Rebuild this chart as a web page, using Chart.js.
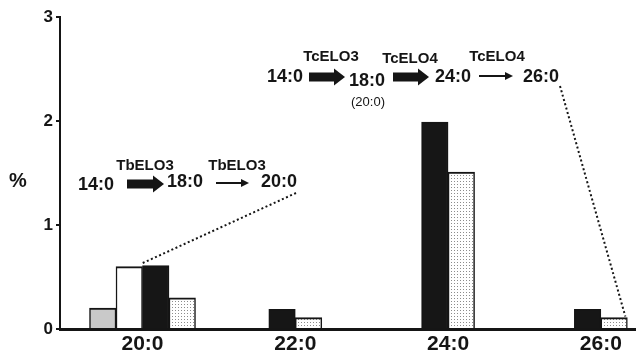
<!DOCTYPE html>
<html>
<head>
<meta charset="utf-8">
<script src="https://cdn.jsdelivr.net/npm/chart.js@4.4.1/dist/chart.umd.min.js"></script>
<style>
  html, body { margin: 0; padding: 0; background: #fff; }
  #wrap { width: 636px; height: 358px; }
</style>
</head>
<body>
<div id="wrap"><canvas id="elongChart"></canvas></div>
<script>
const categories = ['20:0', '22:0', '24:0', '26:0'];
const grayValues = [0.2, null, null, null];
const whiteValues = [0.6, null, null, null];
const blackValues = [0.61, 0.19, 1.99, 0.19];
const dottedValues = [0.3, 0.11, 1.51, 0.11];
const yTicks = [0, 1, 2, 3];

// chain length as number so the x axis can be linear (lets the groups spread like the figure)
const chainLengths = categories.map(c => parseInt(c));

const FONT = "'Liberation Sans', Arial, sans-serif";
const INK = '#151515';

const canvas = document.getElementById('elongChart');
const ctx = canvas.getContext('2d');

// stippled fill for the last series
const dots = document.createElement('canvas');
dots.width = 3; dots.height = 3;
const dctx = dots.getContext('2d');
dctx.fillStyle = '#fff';
dctx.fillRect(0, 0, 3, 3);
dctx.fillStyle = '#8c8c8c';
dctx.fillRect(1, 1, 1, 1);
const dotPattern = ctx.createPattern(dots, 'repeat');

function text(c, str, x, y, size, bold) {
    c.font = (bold ? 'bold ' : '') + size + 'px ' + FONT;
    c.fillStyle = INK;
    c.textAlign = 'center';
    c.textBaseline = 'middle';
    c.fillText(str, x, y);
}

function thickArrow(c, x1, x2, y) {
    const head = 11;
    c.fillStyle = INK;
    c.fillRect(x1, y - 4.5, x2 - x1 - head, 9);
    c.beginPath();
    c.moveTo(x2 - head, y - 8.5);
    c.lineTo(x2, y);
    c.lineTo(x2 - head, y + 8.5);
    c.closePath();
    c.fill();
}

function thinArrow(c, x1, x2, y) {
    const head = 8;
    c.strokeStyle = INK;
    c.lineWidth = 2;
    c.beginPath();
    c.moveTo(x1, y);
    c.lineTo(x2 - head, y);
    c.stroke();
    c.fillStyle = INK;
    c.beginPath();
    c.moveTo(x2 - head, y - 4);
    c.lineTo(x2, y);
    c.lineTo(x2 - head, y + 4);
    c.closePath();
    c.fill();
}

function dotted(c, x1, y1, x2, y2) {
    c.save();
    c.strokeStyle = INK;
    c.lineWidth = 2;
    c.setLineDash([2, 2.5]);
    c.beginPath();
    c.moveTo(x1, y1);
    c.lineTo(x2, y2);
    c.stroke();
    c.restore();
}

const pathways = {
    id: 'pathways',
    afterDraw(chart) {
        const c = chart.ctx;
        c.save();

        // y axis title, written horizontally
        text(c, '%', 18, 181, 20, true);

        // T. brucei pathway
        text(c, 'TbELO3', 145, 166, 15, true);
        text(c, 'TbELO3', 237, 166, 15, true);
        text(c, '14:0', 96, 185, 18, true);
        thickArrow(c, 127, 164, 184);
        text(c, '18:0', 185, 182, 18, true);
        thinArrow(c, 216, 249, 183);
        text(c, '20:0', 279, 182, 18, true);

        // T. cruzi pathway
        text(c, 'TcELO3', 331, 57, 15, true);
        text(c, 'TcELO4', 410, 59, 15, true);
        text(c, 'TcELO4', 497, 57, 15, true);
        text(c, '14:0', 285, 77, 18, true);
        thickArrow(c, 309, 345, 77);
        text(c, '18:0', 367, 81, 18, true);
        text(c, '(20:0)', 368, 102, 13, false);
        thickArrow(c, 393, 429, 77);
        text(c, '24:0', 453, 77, 18, true);
        thinArrow(c, 479, 513, 76);
        text(c, '26:0', 541, 77, 18, true);

        // leader lines to the bars they describe
        const white = chart.getDatasetMeta(1).data[0];
        dotted(c, 296, 193, white.x + white.width / 2 - 1, white.y - 3);
        const last = chart.getDatasetMeta(3).data[3];
        dotted(c, 560, 86, last.x + last.width / 2 - 2, last.y - 1);

        c.restore();
    }
};

const barBorder = { top: 2, left: 1.5, right: 1.5, bottom: 0 };

new Chart(ctx, {
    type: 'bar',
    data: {
        labels: chainLengths,
        datasets: [
            { label: 'gray', data: grayValues, backgroundColor: '#c9c9c9' },
            { label: 'white', data: whiteValues, backgroundColor: '#ffffff' },
            { label: 'black', data: blackValues, backgroundColor: '#161616' },
            { label: 'dotted', data: dottedValues, backgroundColor: dotPattern }
        ].map(d => Object.assign(d, {
            borderColor: INK,
            borderWidth: barBorder,
            borderSkipped: false,
            barThickness: 26.5,
            skipNull: true
        }))
    },
    options: {
        responsive: true,
        maintainAspectRatio: false,
        animation: false,
        layout: { padding: { top: 17, right: 0, bottom: 0, left: 0 } },
        plugins: {
            legend: { display: false },
            tooltip: { enabled: false }
        },
        scales: {
            x: {
                type: 'linear',
                min: 18.92,
                max: 26.46,
                offset: false,
                z: 1,
                afterBuildTicks: s => { s.ticks = chainLengths.map(v => ({ value: v })); },
                afterFit: s => { s.height = 29; },
                grid: { display: true, offset: false, drawOnChartArea: false, drawTicks: false },
                border: { display: true, width: 3, color: INK },
                ticks: {
                    padding: 3,
                    color: INK,
                    font: { family: FONT, size: 21, weight: 'bold' },
                    callback: v => categories[chainLengths.indexOf(v)]
                }
            },
            y: {
                min: 0,
                max: 3,
                afterBuildTicks: s => { s.ticks = yTicks.map(v => ({ value: v })); },
                afterFit: s => { s.width = 60; },
                grid: { drawOnChartArea: false, tickLength: 4, color: INK, lineWidth: 2 },
                border: { display: true, width: 2, color: INK },
                ticks: {
                    padding: 3,
                    color: INK,
                    font: { family: FONT, size: 17, weight: 'bold' }
                }
            }
        }
    },
    plugins: [pathways]
});
</script>
</body>
</html>
